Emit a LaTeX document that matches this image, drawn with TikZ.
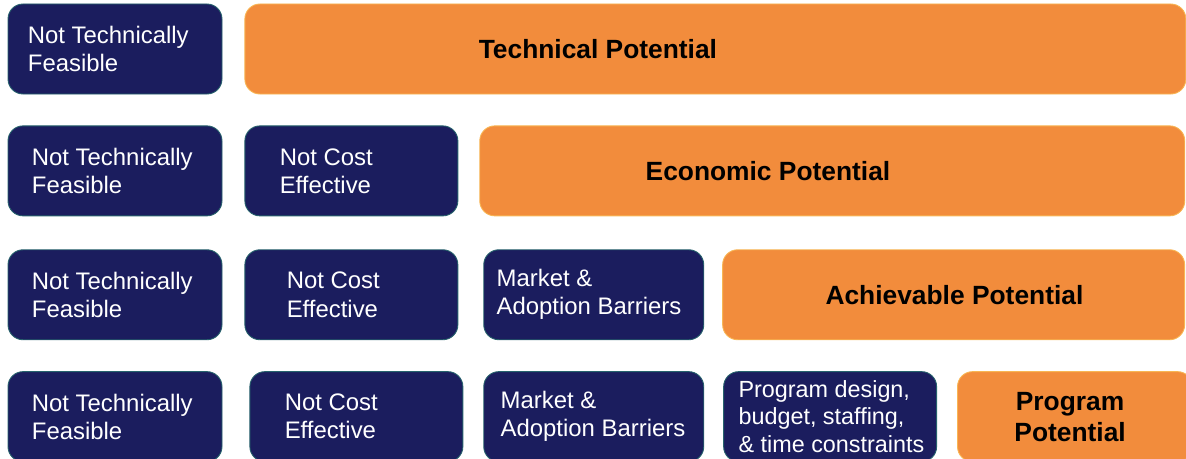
\documentclass[tikz,border=0pt]{standalone}
\usepackage{fontspec}
\setmainfont{Liberation Sans}
\usepackage{tikz}
\usetikzlibrary{positioning}

\definecolor{navyFill}{RGB}{27,29,94}
\definecolor{navyEdge}{RGB}{38,98,108}
\definecolor{orangeFill}{RGB}{242,140,60}
\definecolor{orangeEdge}{RGB}{248,182,84}

\begin{document}
\begin{tikzpicture}[
	barrier/.style={
		draw=navyEdge,
		fill=navyFill,
		line width=0.5pt,
		rounded corners=0.3cm,
		minimum width=4.28cm,
		minimum height=1.8cm
	},
	potential/.style={
		draw=orangeEdge,
		fill=orangeFill,
		line width=0.5pt,
		rounded corners=0.3cm,
		minimum height=1.8cm
	},
	barrierText/.style={
		text=white,
		inner sep=0pt,
		align=left,
		font=\fontsize{13.6}{16}\selectfont
	},
	potentialText/.style={
		text=black,
		inner sep=0pt,
		align=center,
		font=\fontsize{15}{17.6}\selectfont\bfseries
	}
]
\useasboundingbox (0,0) rectangle (23.72,-9.18);

% --- row 1
\node[barrier] (tf1) at (2.3,-0.98) {};
\node[
	potential,
	minimum width=18.82cm,
	right=0.44cm of tf1
] (tp1) {};

\node[barrierText, right=0.4cm of tf1.west] (tf1Text) {Not Technically\\Feasible};
\node[potentialText, right=4.68cm of tp1.west] (tp1Text) {Technical Potential};

% --- row 2
\node[barrier, below=0.62cm of tf1] (tf2) {};
\node[barrier, minimum width=4.26cm, right=0.44cm of tf2] (ce2) {};
\node[
	potential,
	minimum width=14.1cm,
	right=0.42cm of ce2
] (ep2) {};

\node[barrierText, right=0.48cm of tf2.west] (tf2Text) {Not Technically\\Feasible};
\node[barrierText, right=0.7cm of ce2.west] (ce2Text) {Not Cost\\Effective};
\node[potentialText, right=3.32cm of ep2.west] (ep2Text) {Economic Potential};

% --- row 3
\node[barrier, below=0.66cm of tf2] (tf3) {};
\node[barrier, minimum width=4.26cm, right=0.44cm of tf3] (ce3) {};
\node[barrier, minimum width=4.4cm, right=0.5cm of ce3] (mb3) {};
\node[
	potential,
	minimum width=9.24cm,
	right=0.36cm of mb3
] (ap3) {};

\node[barrierText, right=0.48cm of tf3.west] (tf3Text) {Not Technically\\Feasible};
\node[barrierText, right=0.84cm of ce3.west] (ce3Text) {Not Cost\\Effective};
\node[barrierText, right=0.26cm of mb3.west] (mb3Text) {Market \&\\Adoption Barriers};
\node[potentialText, right=2.06cm of ap3.west] (ap3Text) {Achievable Potential};

% --- row 4
\node[barrier, below=0.62cm of tf3] (tf4) {};
\node[barrier, minimum width=4.26cm, right=0.54cm of tf4] (ce4) {};
\node[barrier, minimum width=4.4cm, right=0.4cm of ce4] (mb4) {};
\node[barrier, minimum width=4.26cm, right=0.38cm of mb4] (pc4) {};
\node[
	potential,
	minimum width=4.7cm,
	right=0.4cm of pc4
] (pp4) {};

\node[barrierText, right=0.48cm of tf4.west] (tf4Text) {Not Technically\\Feasible};
\node[barrierText, right=0.7cm of ce4.west] (ce4Text) {Not Cost\\Effective};
\node[barrierText, right=0.34cm of mb4.west] (mb4Text) {Market \&\\Adoption Barriers};
\node[
	barrierText,
	font=\fontsize{13.3}{15.4}\selectfont,
	right=0.3cm of pc4.west
] (pc4Text) {Program design,\\budget, staffing,\\\& time constraints};
\node[potentialText, right=1.14cm of pp4.west] (pp4Text) {Program\\Potential};

\end{tikzpicture}
\end{document}
